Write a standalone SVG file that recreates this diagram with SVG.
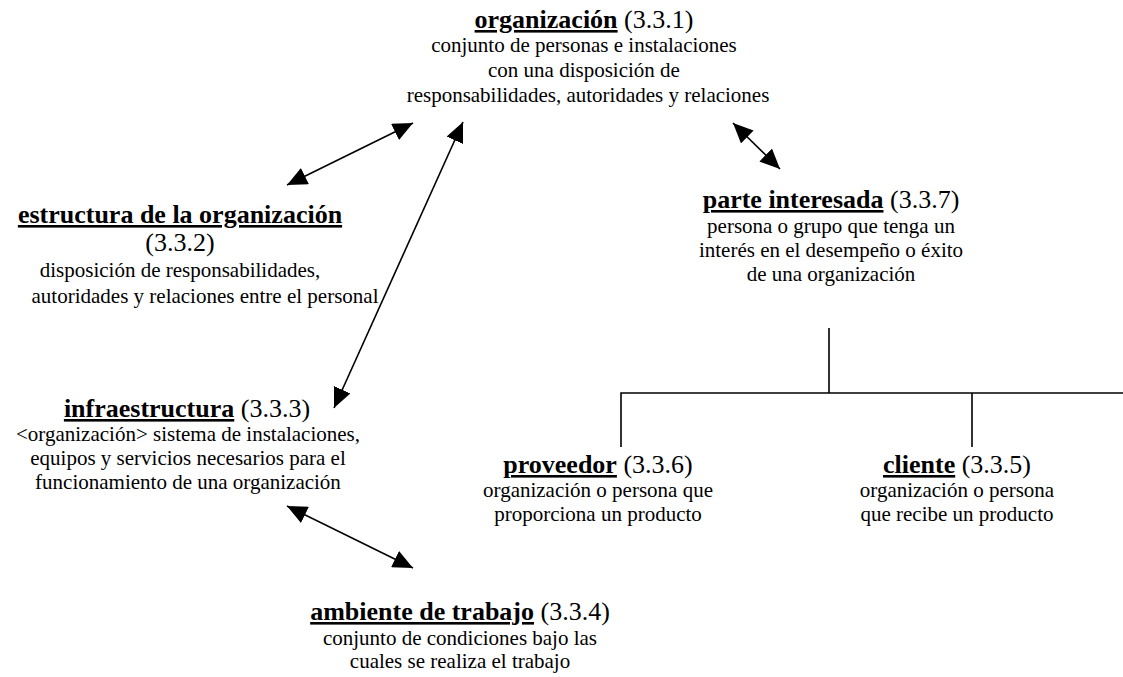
<svg xmlns="http://www.w3.org/2000/svg" width="1123" height="677" viewBox="0 0 1123 677">
<style>
text{font-family:'Liberation Serif','Times New Roman',Times,'DejaVu Serif',serif;fill:#000;text-anchor:middle}
.h{font-size:26px}
.k{font-weight:bold;text-decoration:underline}
.b{font-size:21px}
.ln{stroke:#000;stroke-width:1.6;fill:none}
.ar{stroke:#000;stroke-width:1.6;fill:none;marker-start:url(#ah);marker-end:url(#ah)}
</style>
<defs>
<marker id="ah" viewBox="0 0 20 18" refX="20" refY="9" markerWidth="20" markerHeight="18" markerUnits="userSpaceOnUse" orient="auto-start-reverse">
<path d="M0,0 L20,9 L0,18 z" fill="#000"/>
</marker>
</defs>
<rect width="1123" height="677" fill="#fff"/>
<g id="organizacion">
<text class="h" x="584" y="28"><tspan class="k">organización</tspan> (3.3.1)</text>
<text class="b" x="584" y="52">conjunto de personas e instalaciones</text>
<text class="b" x="584" y="77">con una disposición de</text>
<text class="b" x="588" y="102">responsabilidades, autoridades y relaciones</text>
</g>
<g id="estructura">
<text class="h" x="180" y="223"><tspan class="k">estructura de la organización</tspan></text>
<text class="h" x="180" y="251">(3.3.2)</text>
<text class="b" x="180" y="277">disposición de responsabilidades,</text>
<text class="b" x="205" y="303">autoridades y relaciones entre el personal</text>
</g>
<g id="infraestructura">
<text class="h" x="187" y="417"><tspan class="k">infraestructura</tspan> (3.3.3)</text>
<text class="b" x="188" y="441">&lt;organización&gt; sistema de instalaciones,</text>
<text class="b" x="188" y="465">equipos y servicios necesarios para el</text>
<text class="b" x="188" y="489">funcionamiento de una organización</text>
</g>
<g id="parte-interesada">
<text class="h" x="831" y="208"><tspan class="k">parte interesada</tspan> (3.3.7)</text>
<text class="b" x="831" y="233">persona o grupo que tenga un</text>
<text class="b" x="831" y="257">interés en el desempeño o éxito</text>
<text class="b" x="831" y="281">de una organización</text>
</g>
<g id="proveedor">
<text class="h" x="598" y="473"><tspan class="k">proveedor</tspan> (3.3.6)</text>
<text class="b" x="598" y="497">organización o persona que</text>
<text class="b" x="598" y="521">proporciona un producto</text>
</g>
<g id="cliente">
<text class="h" x="957" y="473"><tspan class="k">cliente</tspan> (3.3.5)</text>
<text class="b" x="957" y="497">organización o persona</text>
<text class="b" x="957" y="521">que recibe un producto</text>
</g>
<g id="ambiente">
<text class="h" x="460" y="620"><tspan class="k">ambiente de trabajo</tspan> (3.3.4)</text>
<text class="b" x="460" y="645">conjunto de condiciones bajo las</text>
<text class="b" x="460" y="668">cuales se realiza el trabajo</text>
</g>
<g id="connectors">
<line class="ar" x1="287" y1="185" x2="413" y2="123"/>
<line class="ar" x1="463" y1="122" x2="334" y2="408"/>
<line class="ar" x1="733" y1="123" x2="780" y2="169"/>
<line class="ar" x1="287" y1="506" x2="413" y2="568"/>
<path class="ln" d="M829,328 V393 M621,447 V393 H1123 M972,393 V447"/>
</g>
</svg>
